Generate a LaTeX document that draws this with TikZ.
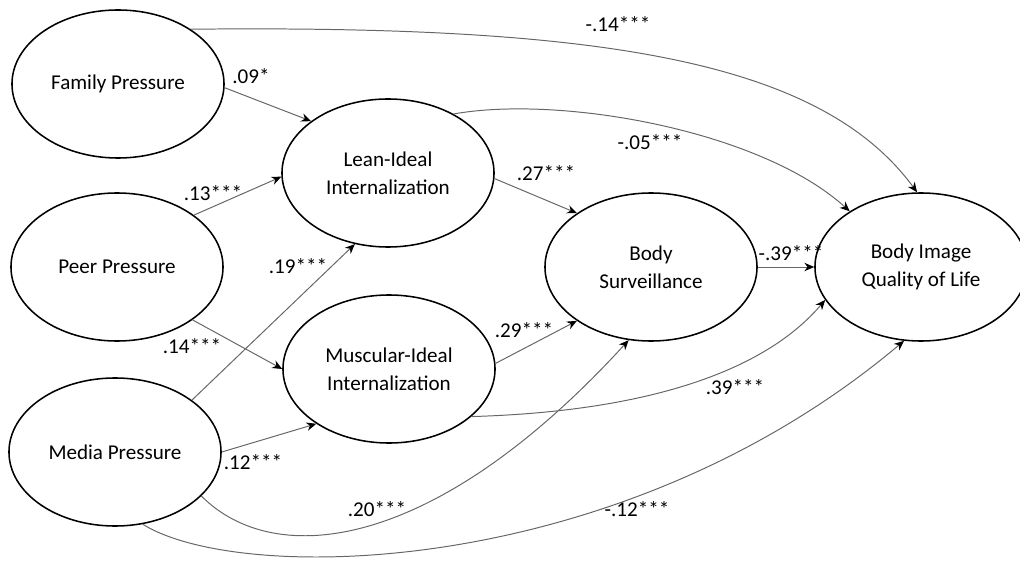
\documentclass[tikz,border=0pt]{standalone}
\usepackage{fontspec}
\setmainfont{Carlito}
\usetikzlibrary{shapes.geometric,arrows.meta}

\tikzset{
  construct/.style={ellipse, draw, line width=1.1pt, minimum width=5.3cm,
    minimum height=3.7cm, inner sep=0pt, align=center,
    font=\fontsize{15}{20}\selectfont},
  link/.style={draw=black!60, line width=0.7pt, ->},
  coef/.style={inner sep=0pt, font=\fontsize{15}{18}\selectfont}
}

\begin{document}
\begin{tikzpicture}[x=0.025cm, y=-0.025cm, >={Stealth[length=7pt, width=6pt, black]}]
        \useasboundingbox (0,0) rectangle (1020,564);

        % Constructs
        \node[construct] (fam) at (118,84) {Family Pressure};
        \node[construct] (peer) at (117,267) {Peer Pressure};
        \node[construct] (media) at (115,452) {Media Pressure};
        \node[construct] (lean) at (388,173) {Lean-Ideal\\Internalization};
        \node[construct] (musc) at (389,369) {Muscular-Ideal\\Internalization};
        \node[construct] (surv) at (651,267) {Body\\Surveillance};
        \node[construct] (qol) at (921,267) {Body Image\\Quality of Life};

        % Pressures -> internalization
        \draw[link] (fam.-2) -- (lean.146);
        \draw[link] (peer.34) -- (lean.182);
        \draw[link] (media.34) -- (lean.245);
        \draw[link] (peer.-35) -- (musc.180);
        \draw[link] (media.0) -- (musc.217);

        % Internalization -> surveillance -> quality of life
        \draw[link] (lean.-3) -- (surv.144);
        \draw[link] (musc.3) -- (surv.216);
        \draw[link] (surv.east) -- (qol.west);

        % Direct paths (curved)
        \draw[link] (fam.37) .. controls (600,25) and (820,60) .. (qol.93);
        \draw[link] (lean.42) .. controls (560,95) and (760,130) .. (qol.142);
        \draw[link] (musc.-30) .. controls (560,414) and (740,400) .. (qol.199);
        \draw[link] (media.-27) .. controls (275,570) and (435,552) .. (surv.253);
        \draw[link] (media.-69) .. controls (240,585) and (620,580) .. (qol.257);

        % Coefficients
        \node[coef] (c1) at (618,24) {-.14***};
        \node[coef] (c2) at (251,76) {.09*};
        \node[coef] (c3) at (213,193) {.13***};
        \node[coef] (c4) at (298,266) {.19***};
        \node[coef] (c5) at (192,346) {.14***};
        \node[coef] (c6) at (253,462) {.12***};
        \node[coef] (c7) at (377,509) {.20***};
        \node[coef] (c8) at (546,173) {.27***};
        \node[coef] (c9) at (650,142) {-.05***};
        \node[coef] (c10) at (524,330) {.29***};
        \node[coef] (c11) at (791,253) {-.39***};
        \node[coef] (c12) at (735,387) {.39***};
        \node[coef] (c13) at (637,509) {-.12***};
\end{tikzpicture}
\end{document}
